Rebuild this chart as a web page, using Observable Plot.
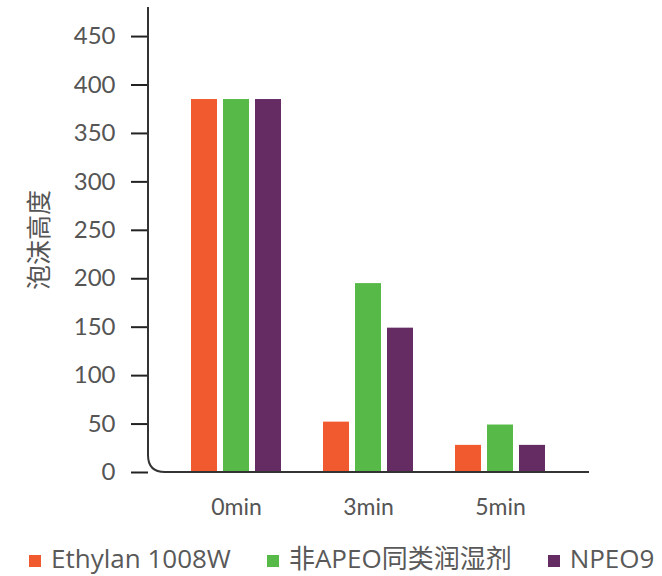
<!DOCTYPE html>
<html>
<head>
<meta charset="utf-8">
<script src="https://cdn.jsdelivr.net/npm/d3@7"></script>
<script src="https://cdn.jsdelivr.net/npm/@observablehq/plot@0.6"></script>
<style>
  html, body { margin: 0; background: #fff; font-family: "Lato", "Noto Sans CJK SC", sans-serif; overflow: hidden; }
  #chart svg { display: block; }
  .legend { display: flex; align-items: center; padding-left: 29px; margin-top: 11px; height: 34px; line-height: 34px;
    font-family: "Open Sans", "Noto Sans CJK SC", sans-serif; font-size: 26px; color: #595959; white-space: nowrap; }
  .legend .item { display: flex; align-items: center; margin-right: 36px; }
  .legend .item:last-child { margin-right: 0; }
  .legend .sw { width: 12px; height: 12px; margin-right: 10px; margin-top: 6px; flex: none; }
</style>
</head>
<body>
<div id="chart"></div>
<div class="legend" id="legend"></div>
<script>
const times = ["0min", "3min", "5min"];
const series = ["Ethylan 1008W", "非APEO同类润湿剂", "NPEO9"];
const ethylan = [385, 52, 28];
const nonApeo = [385, 195, 49];
const npeo9 = [385, 149, 28];
const colors = ["#F15A2F", "#57B947", "#642C63"];
const yTicks = [0, 50, 100, 150, 200, 250, 300, 350, 400, 450];
const yLabel = "泡沫高度";

const valuesBySeries = [ethylan, nonApeo, npeo9];
const data = [];
times.forEach((t, i) => series.forEach((s, j) => data.push({time: t, series: s, value: valuesBySeries[j][i]})));

const W = 662, H = 530, ML = 148, MR = 73, MT = 7, MB = 58;

function makePlot(axisDx) {
  return Plot.plot({
    width: W, height: H,
    marginLeft: ML, marginRight: MR, marginTop: MT, marginBottom: MB,
    style: {fontFamily: "Lato, 'Noto Sans CJK SC', sans-serif", background: "#fff"},
    fx: {domain: times, paddingInner: 0.3, paddingOuter: 0.32, label: null},
    x: {domain: series, paddingInner: 0.2, paddingOuter: 0, axis: null},
    y: {domain: [0, 480]},
    color: {domain: series, range: colors},
    marks: [
      Plot.barY(data, {fx: "time", x: "series", y: "value", fill: "series"}),
      Plot.axisY({ticks: yTicks, tickSize: 17, tickPadding: 16, fontSize: 24, stroke: "#222", strokeWidth: 2,
        fill: "#555", label: null, dx: axisDx}),
      Plot.axisY({ticks: [], tickSize: 0, fontSize: 25, fill: "#555",
        label: yLabel, labelAnchor: "center", labelArrow: "none", labelOffset: 160}),
      Plot.axisFx({anchor: "bottom", tickSize: 0, tickPadding: 26, fontSize: 23, fill: "#555", label: null})
    ]
  });
}

let chart = makePlot(0);
const fx0 = chart.scale("fx");
const offset = fx0.apply(times[0]) - ML;
chart = makePlot(-offset);
document.getElementById("chart").appendChild(chart);

// L-shaped axis line with rounded corner, positioned from the y scale
const ys = chart.scale("y");
const yTop = ys.apply(480), yBot = ys.apply(0);
const xL = ML, xR = W - MR, r = 17;
d3.select(chart).append("path")
  .attr("d", `M${xL},${yTop}V${yBot - r}Q${xL},${yBot} ${xL + r},${yBot}H${xR}`)
  .attr("fill", "none").attr("stroke", "#333").attr("stroke-width", 2);

const legend = document.getElementById("legend");
series.forEach((s, i) => {
  const item = document.createElement("div");
  item.className = "item";
  item.innerHTML = `<span class="sw" style="background:${colors[i]}"></span><span>${s}</span>`;
  legend.appendChild(item);
});
</script>
</body>
</html>
